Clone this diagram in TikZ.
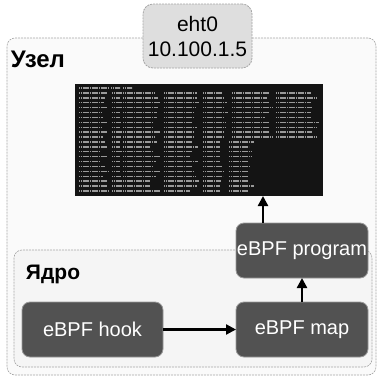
\documentclass[tikz,border=0pt]{standalone}
\usepackage{fontspec}
\setmainfont{Liberation Sans}
\usetikzlibrary{arrows.meta}
\begin{document}
\begin{tikzpicture}[x=1pt,y=-1pt,
  every node/.style={inner sep=0pt, outer sep=0pt},
  region/.style={draw=black!35, dash pattern=on 2pt off 1pt, rounded corners=8pt, line width=0.6pt},
  darkbox/.style={fill=black!68, draw=black!40, line width=0.8pt, rounded corners=8pt,
    text=white, font=\fontsize{20}{22}\selectfont},
  ifbox/.style={fill=black!13, draw=black!35, dash pattern=on 2pt off 1pt, line width=0.8pt,
    rounded corners=10pt, align=center, font=\fontsize{21}{25}\selectfont},
  flow/.style={-{Triangle[length=10pt,width=10pt]}, line width=2.3pt},
  title/.style={font=\bfseries\fontsize{24}{26}\selectfont, anchor=west},
  ttyline/.style={line width=1.4pt, draw=black!40, dash pattern=on 1.3pt off 0.5pt}
]
\useasboundingbox (0,0) rectangle (381,378);
\fill[white] (0,0) rectangle (381,378);

% host and kernel regions
\node[region, fill=black!2, minimum width=369pt, minimum height=337pt] (host) at (191.5,206.5) {};
\node[region, fill=black!4, minimum width=358pt, minimum height=117pt] (kernel) at (193,308.5) {};
\node[title] (hostlbl) at (11,59) {Узел};
\node[title, font=\bfseries\fontsize{21}{23}\selectfont] (kernlbl) at (26,274) {Ядро};

% network interface
\node[ifbox, minimum width=109pt, minimum height=64pt] (eth) at (197.5,36) {eht0\\10.100.1.5};

% terminal output
\node[fill=black!92, minimum width=248pt, minimum height=112pt] (term) at (199,140) {};
\begin{scope}
  \pgfmathsetseed{11}
  \draw[ttyline] (79,88) -- (108,88) (111,88) -- (120,88) (123,88) -- (132,88);
  \foreach \r in {1,...,21} {
    \pgfmathsetmacro\yy{88+\r*4.9}
    \ifnum\r<11
      \foreach \s/\m in {79/30,112/10,123/38,164/36,203/26,232/42,276/44} {
        \pgfmathsetmacro\ee{\s+\m*(0.75+0.25*rnd)}
        \draw[ttyline] (\s,\yy) -- (\ee,\yy);
      }
    \else
      \foreach \s/\m in {79/30,112/10,123/38,164/36,203/22,229/26} {
        \pgfmathsetmacro\ee{min(\s+\m*(0.7+0.3*rnd),254)}
        \draw[ttyline] (\s,\yy) -- (\ee,\yy);
      }
    \fi
  }
\end{scope}

% eBPF components
\node[darkbox, minimum width=132pt, minimum height=55pt] (prog) at (302,250.5) {eBPF program};
\node[darkbox, minimum width=141pt, minimum height=55pt] (hook) at (92.5,329.5) {eBPF hook};
\node[darkbox, minimum width=132pt, minimum height=55pt] (map) at (302,329.5) {eBPF map};

% data flow
\draw[flow] (hook) -- (map);
\draw[flow] (map) -- (prog);
\draw[flow] ([xshift=-39pt]prog.north) -- ([xshift=-39pt]prog.north |- term.south);
\end{tikzpicture}
\end{document}
